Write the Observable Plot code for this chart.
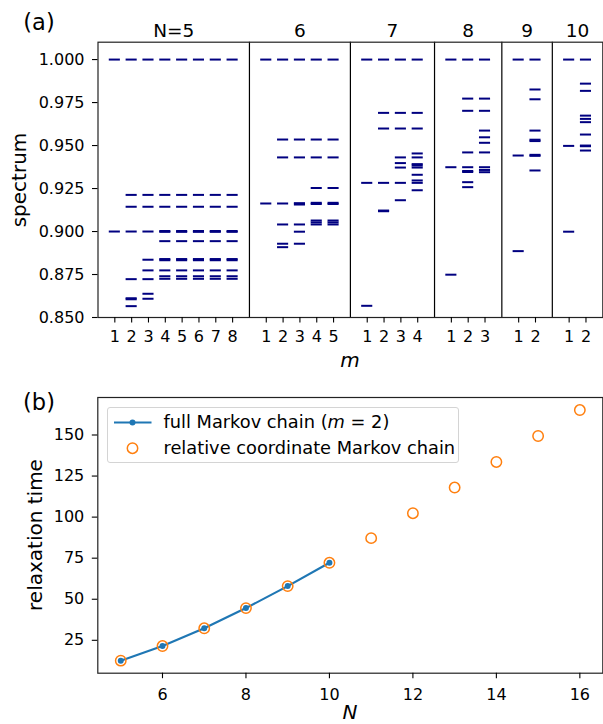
<!DOCTYPE html>
<html>
<head>
<meta charset="utf-8">
<script src="https://cdn.jsdelivr.net/npm/d3@7"></script>
<script src="https://cdn.jsdelivr.net/npm/@observablehq/plot@0.6"></script>
<style>
  html, body { margin: 0; padding: 0; background: #fff; }
  #wrap { position: relative; width: 603px; height: 724px; overflow: hidden; font-family: "DejaVu Sans", sans-serif; color: #000; }
  .abs { position: absolute; white-space: nowrap; line-height: 1; }
  .c { transform: translate(-50%, -50%); }
  .rot { transform: translate(-50%, -50%) rotate(-90deg); }
  #legend { position: absolute; left: 106.5px; top: 406.5px; width: 352px; height: 56px; border: 1px solid #d4d4d4; border-radius: 3px; background: rgba(255,255,255,0.8); box-sizing: border-box; }
  #legend svg { position: absolute; left: 0; top: 0; }
  #legend .lt { position: absolute; left: 56px; font-size: 17.8px; line-height: 1; transform: translateY(-50%); white-space: nowrap; }
</style>
</head>
<body>
<div id="wrap">
  <div id="pa" class="abs" style="left:0;top:0"></div>
  <div id="pb" class="abs" style="left:0;top:380px"></div>
  <div class="abs c" style="left:39px;top:22px;font-size:22.5px">(a)</div>
  <div class="abs c" style="left:39px;top:402px;font-size:22.5px">(b)</div>
  <div class="abs rot" style="left:19px;top:179.5px;font-size:20px">spectrum</div>
  <div class="abs rot" style="left:35px;top:535px;font-size:20px">relaxation time</div>
  <div class="abs c" style="left:350px;top:360px;font-size:20px;font-style:italic">m</div>
  <div class="abs c" style="left:350px;top:712px;font-size:20px;font-style:italic">N</div>
  <div id="legend"></div>
</div>
<script>
// ---------- panel (a): spectrum, one array per N, one sub-array per m ----------
const panelN = [5, 6, 7, 8, 9, 10];
const panelTitles = ["N=5", "6", "7", "8", "9", "10"];

const spectrumN5 = [
  [1.000, 0.900],
  [1.000, 0.9213, 0.9144, 0.900, 0.8723, 0.8612, 0.8606, 0.8566],
  [1.000, 0.9213, 0.9144, 0.900, 0.8836, 0.8774, 0.8723, 0.8638, 0.8609],
  [1.000, 0.9213, 0.9144, 0.9003, 0.8998, 0.8944, 0.8840, 0.8833, 0.8774, 0.8740, 0.8725],
  [1.000, 0.9213, 0.9144, 0.9003, 0.8998, 0.8944, 0.8840, 0.8833, 0.8774, 0.8740, 0.8725],
  [1.000, 0.9213, 0.9144, 0.9003, 0.8998, 0.8944, 0.8840, 0.8833, 0.8774, 0.8740, 0.8725],
  [1.000, 0.9213, 0.9144, 0.9003, 0.8998, 0.8944, 0.8840, 0.8833, 0.8774, 0.8740, 0.8725],
  [1.000, 0.9213, 0.9144, 0.9003, 0.8998, 0.8944, 0.8840, 0.8833, 0.8774, 0.8740, 0.8725]
];
const spectrumN6 = [
  [1.000, 0.9163],
  [1.000, 0.9535, 0.9431, 0.9163, 0.9041, 0.8929, 0.8909],
  [1.000, 0.9535, 0.9431, 0.9165, 0.9157, 0.9041, 0.8999, 0.8929],
  [1.000, 0.9535, 0.9431, 0.9253, 0.9167, 0.9160, 0.9064, 0.9053, 0.9041],
  [1.000, 0.9535, 0.9431, 0.9253, 0.9167, 0.9160, 0.9064, 0.9053, 0.9041]
];
const spectrumN7 = [
  [1.000, 0.9283, 0.8568],
  [1.000, 0.9690, 0.9599, 0.9283, 0.9122, 0.9118],
  [1.000, 0.9690, 0.9599, 0.9431, 0.9398, 0.9372, 0.9283, 0.9182],
  [1.000, 0.9690, 0.9599, 0.9454, 0.9431, 0.9392, 0.9384, 0.9372, 0.9330, 0.9297, 0.9283, 0.9240]
];
const spectrumN8 = [
  [1.000, 0.9374, 0.8749],
  [1.000, 0.9773, 0.9702, 0.9460, 0.9374, 0.9352, 0.9346, 0.9287, 0.9258],
  [1.000, 0.9773, 0.9702, 0.9587, 0.9548, 0.9516, 0.9460, 0.9374, 0.9358, 0.9345]
];
const spectrumN9 = [
  [1.000, 0.9442, 0.8886],
  [1.000, 0.9826, 0.9769, 0.9587, 0.9534, 0.9526, 0.9446, 0.9440, 0.9355]
];
const spectrumN10 = [
  [1.000, 0.9498, 0.8999],
  [1.000, 0.9860, 0.9818, 0.9674, 0.9655, 0.9636, 0.9564, 0.9500, 0.9496, 0.9471]
];
const spectrumTicks = [0.850, 0.875, 0.900, 0.925, 0.950, 0.975, 1.000];

// ---------- panel (b): relaxation time ----------
const fullN = [5, 6, 7, 8, 9, 10];
const fullTau = [12.6, 21.5, 32.3, 44.6, 58.0, 72.2];
const relN = [5, 6, 7, 8, 9, 10, 11, 12, 13, 14, 15, 16];
const relTau = [12.6, 21.5, 32.3, 44.6, 58.0, 72.2, 87.2, 102.4, 118.0, 133.6, 149.4, 165.2];
const tauTicks = [25, 50, 75, 100, 125, 150];
const nTicks = [6, 8, 10, 12, 14, 16];

// ---------- build panel (a) table ----------
const spectra = [spectrumN5, spectrumN6, spectrumN7, spectrumN8, spectrumN9, spectrumN10];
const levels = [], slotTicks = [], slotLabel = new Map(), separators = [], titles = [];
let start = 0;
spectra.forEach((sp, i) => {
  sp.forEach((vals, j) => {
    const slot = start + j + 1;
    slotTicks.push(slot);
    slotLabel.set(slot, String(j + 1));
    vals.forEach(v => levels.push({N: panelN[i], m: j + 1, slot, v}));
  });
  const end = start + sp.length + 1;
  titles.push({x: (start + end) / 2, text: panelTitles[i]});
  if (i < spectra.length - 1) separators.push(end);
  start = end;
});
const slotMax = start;

const HW = 0.33; // half-width of each level dash (in slot units)
const font = {fontFamily: "DejaVu Sans", fontSize: "16px", color: "#000", background: "transparent", overflow: "visible"};

const plotA = Plot.plot({
  width: 603, height: 380,
  marginTop: 41.7, marginBottom: 63, marginLeft: 97.5, marginRight: 0.7,
  style: font,
  x: {type: "linear", domain: [0, slotMax], label: null},
  y: {domain: [0.85, 1.0101], label: null},
  marks: [
    Plot.ruleY(levels, {y: "v", x1: d => d.slot - HW, x2: d => d.slot + HW, stroke: "#000080", strokeWidth: 2}),
    Plot.ruleX(separators, {stroke: "#000", strokeWidth: 1.2}),
    Plot.frame({stroke: "#222", strokeWidth: 1.2}),
    Plot.axisX({ticks: slotTicks, tickFormat: d => slotLabel.get(d), tickSize: 5.5, tickPadding: 8, label: null, strokeWidth: 1.1}),
    Plot.axisY({ticks: spectrumTicks, tickFormat: d3.format(".3f"), tickSize: 5.5, tickPadding: 8, label: null, strokeWidth: 1.1}),
    Plot.text(titles, {x: "x", text: "text", frameAnchor: "top", dy: -18, fontSize: 18.5, fill: "#000"})
  ]
});
document.getElementById("pa").appendChild(plotA);

const full = fullN.map((n, i) => ({N: n, tau: fullTau[i]}));
const rel = relN.map((n, i) => ({N: n, tau: relTau[i]}));

const plotB = Plot.plot({
  width: 603, height: 344,
  marginTop: 17, marginBottom: 51.3, marginLeft: 97.3, marginRight: 0.7,
  style: font,
  x: {domain: [4.45, 16.55], label: null},
  y: {domain: [4.97, 172.83], label: null},
  marks: [
    Plot.line(full, {x: "N", y: "tau", stroke: "#1f77b4", strokeWidth: 2.2}),
    Plot.dot(full, {x: "N", y: "tau", fill: "#1f77b4", r: 3}),
    Plot.dot(rel, {x: "N", y: "tau", stroke: "#ff7f0e", fill: "none", r: 5.2, strokeWidth: 1.5}),
    Plot.frame({stroke: "#222", strokeWidth: 1.2}),
    Plot.axisX({ticks: nTicks, tickFormat: d3.format("d"), tickSize: 5.5, tickPadding: 9.5, label: null, strokeWidth: 1.1}),
    Plot.axisY({ticks: tauTicks, tickFormat: d3.format("d"), tickSize: 5.5, tickPadding: 8, label: null, strokeWidth: 1.1})
  ]
});
document.getElementById("pb").appendChild(plotB);

// ---------- legend ----------
const legendItems = [
  {label: "full Markov chain (<i>m</i> = 2)", kind: "line"},
  {label: "relative coordinate Markov chain", kind: "circle"}
];
const lg = document.getElementById("legend");
const ns = "http://www.w3.org/2000/svg";
const sv = document.createElementNS(ns, "svg");
sv.setAttribute("width", 352); sv.setAttribute("height", 56);
const rowY = [14.5, 40.2];
legendItems.forEach((it, i) => {
  if (it.kind === "line") {
    const l = document.createElementNS(ns, "line");
    l.setAttribute("x1", 6); l.setAttribute("x2", 43.5); l.setAttribute("y1", rowY[i]); l.setAttribute("y2", rowY[i]);
    l.setAttribute("stroke", "#1f77b4"); l.setAttribute("stroke-width", 2.2);
    sv.appendChild(l);
    const c = document.createElementNS(ns, "circle");
    c.setAttribute("cx", 24.5); c.setAttribute("cy", rowY[i]); c.setAttribute("r", 3); c.setAttribute("fill", "#1f77b4");
    sv.appendChild(c);
  } else {
    const c = document.createElementNS(ns, "circle");
    c.setAttribute("cx", 24.5); c.setAttribute("cy", rowY[i]); c.setAttribute("r", 5.2);
    c.setAttribute("fill", "none"); c.setAttribute("stroke", "#ff7f0e"); c.setAttribute("stroke-width", 1.5);
    sv.appendChild(c);
  }
  const t = document.createElement("div");
  t.className = "lt";
  t.style.top = rowY[i] + "px";
  t.innerHTML = it.label;
  lg.appendChild(t);
});
lg.appendChild(sv);
</script>
</body>
</html>
